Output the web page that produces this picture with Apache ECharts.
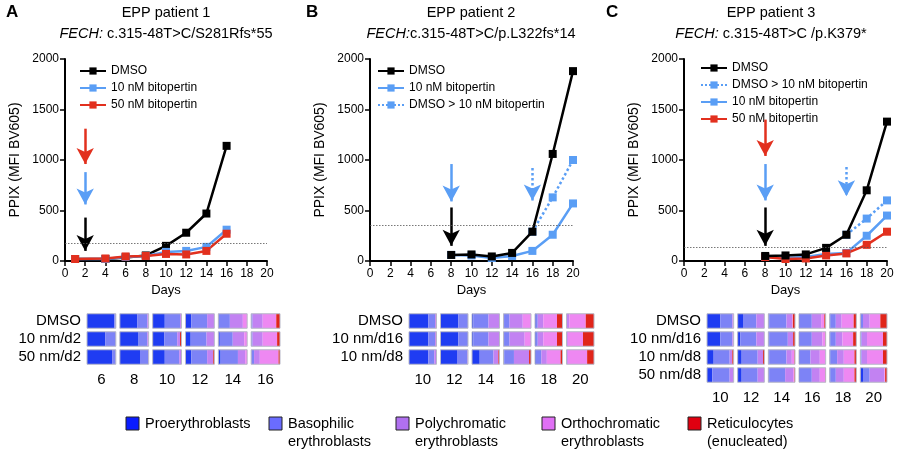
<!DOCTYPE html>
<html>
<head>
<meta charset="utf-8">
<script src="https://cdn.jsdelivr.net/npm/echarts@6/dist/echarts.min.js"></script>
<style>html,body{margin:0;padding:0;background:#fff}#chart{width:900px;height:455px}</style>
</head>
<body>
<div id="chart"></div>
<script>
// line chart data
const daysA = [1, 4, 6, 8, 10, 12, 14, 16];
const dmsoA = [20, 20, 35, 55, 150, 280, 470, 1140];
const nm10A = [20, 20, 40, 50, 90, 100, 140, 310];
const nm50A = [20, 25, 45, 50, 70, 65, 100, 270];
const thresholdA = 175;

const daysB = [8, 10, 12, 14, 16, 18, 20];
const dmsoB = [60, 65, 45, 80, 290, 1060, 1880];
const nm10B = [60, 55, 30, 50, 100, 260, 570];
const switchDaysB = [16, 18, 20];
const switchB = [290, 630, 1000];
const thresholdB = 350;

const daysC = [8, 10, 12, 14, 16, 18, 20];
const dmsoC = [50, 55, 65, 130, 260, 700, 1380];
const nm10C = [40, 30, 40, 70, 80, 250, 450];
const nm50C = [40, 20, 25, 55, 75, 160, 290];
const switchDaysC = [16, 18, 20];
const switchC = [260, 420, 600];
const thresholdC = 135;

// differentiation stages: [pro, baso, poly, ortho, retic]
const stages = ['Proerythroblasts', 'Basophilic\nerythroblasts', 'Polychromatic\nerythroblasts', 'Orthochromatic\nerythroblasts', 'Reticulocytes\n(enucleated)'];
const stageColors = ['#1f3cf2', '#7d83f6', '#c282f2', '#ee88f2', '#e0251a'];
const legendColors = ['#0a1cff', '#6a6cff', '#b070f0', '#e070f5', '#e00010'];

const barDaysA = ['6', '8', '10', '12', '14', '16'];
const barRowsA = ['DMSO', '10 nm/d2', '50 nm/d2'];
const fracA = [
  [[.95,.05,0,0,0],[.6,.35,.05,0,0],[.42,.53,.05,0,0],[.2,.55,.25,0,0],[.02,.38,.45,.15,0],[0,.05,.35,.47,.13]],
  [[.63,.37,0,0,0],[.65,.3,.05,0,0],[.4,.45,.1,0,.05],[.18,.55,.27,0,0],[.05,.45,.4,.1,0],[0,.05,.35,.5,.1]],
  [[.87,.13,0,0,0],[.7,.28,.02,0,0],[.42,.5,.08,0,0],[.2,.55,.21,0,.04],[.08,.6,.25,.07,0],[0,.1,.2,.65,.05]]
];

const barDaysB = ['10', '12', '14', '16', '18', '20'];
const barRowsB = ['DMSO', '10 nm/d16', '10 nm/d8'];
const fracB = [
  [[.7,.25,.03,0,.02],[.65,.35,0,0,0],[.05,.55,.4,0,0],[.02,.2,.48,.3,0],[.03,.07,.2,.5,.2],[0,0,.1,.6,.3]],
  [[.7,.25,.03,0,.02],[.65,.35,0,0,0],[.05,.55,.4,0,0],[.02,.2,.55,.23,0],[.03,.07,.2,.5,.2],[0,0,.05,.55,.4]],
  [[.7,.22,.08,0,0],[.6,.38,.02,0,0],[.28,.5,.18,0,.04],[.03,.35,.55,0,.07],[.03,.2,.2,.5,.07],[0,0,.05,.7,.25]]
];

const barDaysC = ['10', '12', '14', '16', '18', '20'];
const barRowsC = ['DMSO', '10 nm/d16', '10 nm/d8', '50 nm/d8'];
const fracC = [
  [[.5,.45,.05,0,0],[.2,.5,.3,0,0],[.03,.65,.22,.02,.08],[.03,.45,.35,.12,.05],[.03,.2,.22,.45,.1],[0,.1,.25,.4,.25]],
  [[.5,.45,.05,0,0],[.1,.6,.3,0,0],[.03,.7,.2,0,.07],[.03,.45,.4,.1,.02],[.03,.2,.25,.4,.12],[0,.05,.2,.6,.15]],
  [[.25,.6,.1,0,.05],[.15,.6,.2,0,.05],[.03,.65,.2,.1,.02],[.03,.4,.35,.22,0],[.03,.25,.25,.4,.07],[0,.05,.2,.6,.15]],
  [[.2,.65,.15,0,0],[.15,.6,.25,0,0],[.03,.6,.3,.05,.02],[.03,.45,.3,.2,.02],[.03,.2,.3,.4,.07],[.1,.25,.55,.03,.07]]
];

const BLACK = '#000', BLUE = '#5a9ef5', RED = '#e2301e';
const FONT = 'Arial, Liberation Sans, sans-serif';

const lineGrids = [
  { left: 65, top: 59, width: 202, height: 202 },
  { left: 370, top: 59, width: 203, height: 202 },
  { left: 684, top: 59, width: 203, height: 202 }
];
const barGrids = [
  { left: 85, top: 312, width: 197, height: 54 },
  { left: 407, top: 312, width: 189, height: 54 },
  { left: 705, top: 312, width: 184, height: 72 }
];

const chart = echarts.init(document.getElementById('chart'), null, { renderer: 'canvas' });

const grid = [], xAxis = [], yAxis = [], series = [];

lineGrids.forEach((g, i) => {
  grid.push(Object.assign({ containLabel: false }, g));
  xAxis.push({
    type: 'value', gridIndex: i, min: 0, max: 20, interval: 2,
    name: 'Days', nameLocation: 'middle', nameGap: 23,
    nameTextStyle: { fontSize: 13, color: '#000', fontFamily: FONT },
    axisLine: { lineStyle: { color: '#000', width: 2 } },
    axisTick: { show: true, length: 5, lineStyle: { color: '#000', width: 1.5 } },
    axisLabel: { fontSize: 12, color: '#000', margin: 7, fontFamily: FONT },
    splitLine: { show: false }
  });
  yAxis.push({
    type: 'value', gridIndex: i, min: 0, max: 2000, interval: 500,
    name: 'PPIX (MFI BV605)', nameLocation: 'middle', nameGap: 43,
    nameTextStyle: { fontSize: 14, color: '#000', fontFamily: FONT },
    axisLine: { show: true, lineStyle: { color: '#000', width: 2 } },
    axisTick: { show: true, length: 5, lineStyle: { color: '#000', width: 1.5 } },
    axisLabel: { fontSize: 12, color: '#000', margin: 6, fontFamily: FONT, formatter: v => String(v) },
    splitLine: { show: false }
  });
});

barGrids.forEach((g, i) => {
  grid.push(Object.assign({ containLabel: false }, g));
});
const barSets = [[barDaysA, barRowsA, fracA], [barDaysB, barRowsB, fracB], [barDaysC, barRowsC, fracC]];
barSets.forEach((s, i) => {
  xAxis.push({
    type: 'category', gridIndex: 3 + i, data: s[0],
    axisLine: { show: false }, axisTick: { show: false },
    axisLabel: { fontSize: 15, color: '#000', margin: 6, fontFamily: FONT, interval: 0 }
  });
  yAxis.push({
    type: 'category', gridIndex: 3 + i, data: s[1], inverse: true,
    axisLine: { show: false }, axisTick: { show: false },
    axisLabel: { fontSize: 15, color: '#000', margin: 4, fontFamily: FONT, interval: 0 }
  });
});

function line(name, xs, ys, color, idx, dotted, extra) {
  return Object.assign({
    name: name, type: 'line', xAxisIndex: idx, yAxisIndex: idx,
    data: xs.map((x, k) => [x, ys[k]]),
    symbol: 'rect', symbolSize: 8, color: color,
    lineStyle: { color: color, width: 2.5, type: dotted ? 'dotted' : 'solid' },
    itemStyle: { color: color }, z: 3
  }, extra || {});
}

function arrows(idx, list, threshold) {
  const data = list.map(a => [
    { coord: [a.x, a.from], lineStyle: { color: a.c, width: 2.5, type: a.dot ? 'dotted' : 'solid' } },
    { coord: [a.x, a.to] }
  ]);
  data.push([
    { coord: [0, threshold], lineStyle: { color: '#555', width: 0.8, type: [1.5, 1.5] }, symbol: 'none' },
    { coord: [20, threshold], symbol: 'none' }
  ]);
  return {
    type: 'line', xAxisIndex: idx, yAxisIndex: idx, data: [], silent: true,
    markLine: {
      silent: true, animation: false, symbol: ['none', 'arrow'], symbolSize: [13, 16],
      label: { show: false }, emphasis: { disabled: true }, data: data
    }
  };
}

// panel A
series.push(line('DMSO', daysA, dmsoA, BLACK, 0));
series.push(line('10 nM bitopertin', daysA, nm10A, BLUE, 0));
series.push(line('50 nM bitopertin', daysA, nm50A, RED, 0));
series.push(arrows(0, [
  { x: 2, from: 430, to: 100, c: BLACK },
  { x: 2, from: 880, to: 560, c: BLUE },
  { x: 2, from: 1310, to: 960, c: RED }
], thresholdA));

// panel B
series.push(line('DMSO', daysB, dmsoB, BLACK, 1, false, { z: 4 }));
series.push(line('10 nM bitopertin', daysB, nm10B, BLUE, 1));
series.push(line('DMSO > 10 nM bitopertin', switchDaysB, switchB, BLUE, 1, true));
series.push(arrows(1, [
  { x: 8, from: 530, to: 150, c: BLACK },
  { x: 8, from: 960, to: 590, c: BLUE },
  { x: 16, from: 920, to: 600, c: BLUE, dot: true }
], thresholdB));

// panel C
series.push(line('DMSO', daysC, dmsoC, BLACK, 2, false, { z: 4 }));
series.push(line('DMSO > 10 nM bitopertin', switchDaysC, switchC, BLUE, 2, true));
series.push(line('10 nM bitopertin', daysC, nm10C, BLUE, 2));
series.push(line('50 nM bitopertin', daysC, nm50C, RED, 2));
series.push(arrows(2, [
  { x: 8, from: 530, to: 150, c: BLACK },
  { x: 8, from: 960, to: 600, c: BLUE },
  { x: 8, from: 1400, to: 1040, c: RED },
  { x: 16, from: 930, to: 640, c: BLUE, dot: true }
], thresholdC));

// stacked differentiation bars
barSets.forEach((s, i) => {
  const data = [];
  s[2].forEach((row, r) => row.forEach((f, c) => data.push([c, r].concat(f))));
  series.push({
    type: 'custom', xAxisIndex: 3 + i, yAxisIndex: 3 + i, data: data, silent: true,
    renderItem: function (params, api) {
      const center = api.coord([api.value(0), api.value(1)]);
      const band = api.size([1, 1]);
      const w = band[0] - 4, h = band[1] - 3.5;
      const x0 = center[0] - w / 2, y0 = center[1] - h / 2;
      let tot = 0;
      for (let k = 0; k < 5; k++) tot += api.value(2 + k);
      const children = [];
      let x = x0;
      for (let k = 0; k < 5; k++) {
        const sw = w * api.value(2 + k) / tot;
        if (sw > 0) {
          children.push({ type: 'rect', shape: { x: x, y: y0, width: sw, height: h }, style: { fill: stageColors[k] } });
        }
        x += sw;
      }
      children.push({ type: 'rect', shape: { x: x0, y: y0, width: w, height: h }, style: { fill: 'none', stroke: '#b8b8c8', lineWidth: 1 } });
      return { type: 'group', children: children };
    }
  });
});

const legendBase = {
  orient: 'vertical', itemWidth: 26, itemHeight: 9, itemGap: 5,
  textStyle: { fontSize: 12, color: '#000', fontFamily: FONT }
};

const titles = [
  { x: 166, t: 'EPP patient 1\n{i|FECH:} c.315-48T>C/S281Rfs*55' },
  { x: 471, t: 'EPP patient 2\n{i|FECH:}c.315-48T>C/p.L322fs*14' },
  { x: 771, t: 'EPP patient 3\n{i|FECH:} c.315-48T>C /p.K379*' }
];

const graphic = [];
[['A', 6], ['B', 306], ['C', 606]].forEach(p => graphic.push({
  type: 'text', left: p[1], top: 4,
  style: { text: p[0], font: 'bold 17px ' + FONT, fill: '#000' }
}));
titles.forEach(t => graphic.push({
  type: 'text', x: t.x, y: 2,
  style: {
    text: t.t, align: 'center', fill: '#000', font: '14.5px ' + FONT, lineHeight: 21,
    rich: { i: { fontStyle: 'italic', font: 'italic 14.5px ' + FONT } }
  }
}));
const legendX = [126, 269, 396, 542, 688];
stages.forEach((s, k) => {
  graphic.push({ type: 'rect', shape: { x: legendX[k], y: 417, width: 13, height: 13 }, style: { fill: legendColors[k], stroke: '#222', lineWidth: 1 } });
  graphic.push({
    type: 'text', x: legendX[k] + 19, y: 415,
    style: { text: s, fill: '#000', font: '14.5px ' + FONT, lineHeight: 18, align: 'left' }
  });
});

chart.setOption({
  animation: false,
  backgroundColor: '#fff',
  textStyle: { fontFamily: FONT },
  grid: grid, xAxis: xAxis, yAxis: yAxis, series: series,
  legend: [
    Object.assign({ left: 74, top: 60, data: ['DMSO', '10 nM bitopertin', '50 nM bitopertin'] }, legendBase),
    Object.assign({ left: 372, top: 60, data: ['DMSO', '10 nM bitopertin', 'DMSO > 10 nM bitopertin'] }, legendBase),
    Object.assign({ left: 695, top: 57, itemGap: 4, data: ['DMSO', 'DMSO > 10 nM bitopertin', '10 nM bitopertin', '50 nM bitopertin'] }, legendBase)
  ],
  graphic: graphic
});
</script>
</body>
</html>
